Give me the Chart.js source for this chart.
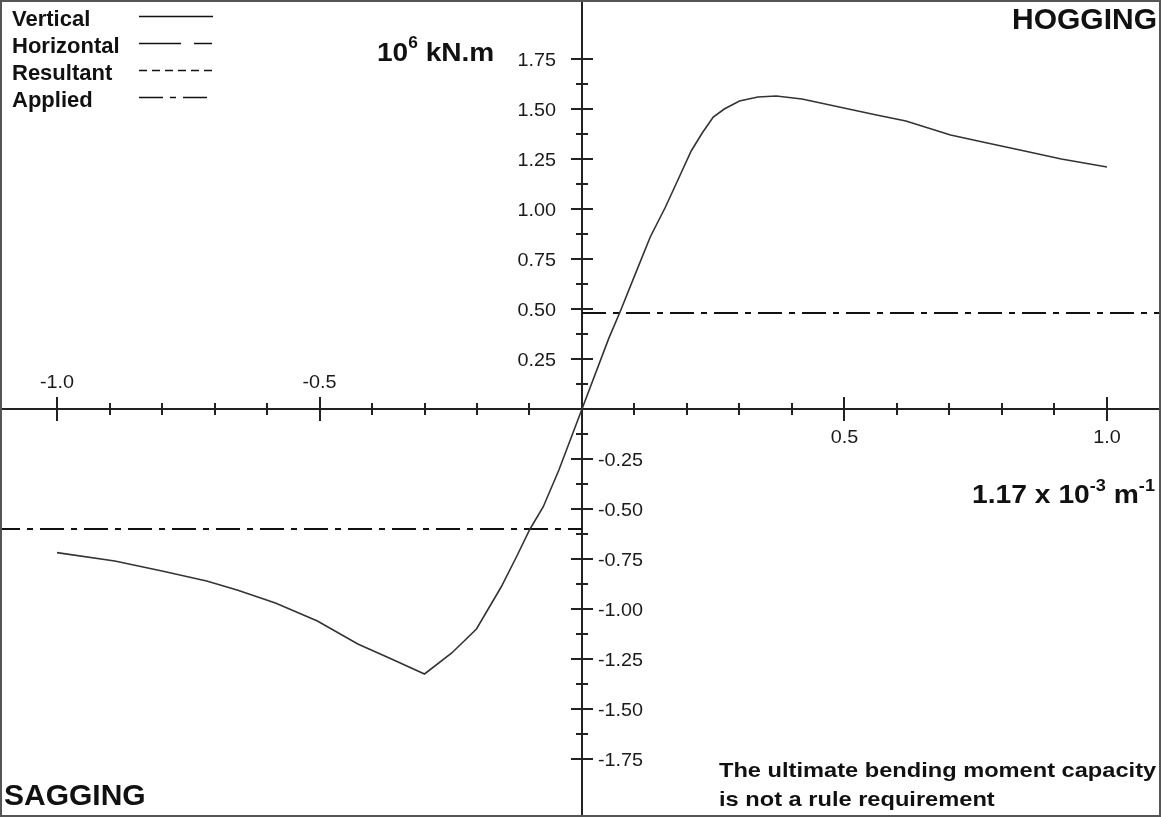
<!DOCTYPE html>
<html>
<head>
<meta charset="utf-8">
<title>Ultimate bending moment vs curvature</title>
<script src="https://cdn.jsdelivr.net/npm/chart.js@4.4.1/dist/chart.umd.min.js"></script>
<style>
  html, body { margin: 0; padding: 0; background: #fff; }
  #wrap { width: 1161px; height: 817px; }
</style>
</head>
<body>
<div id="wrap"><canvas id="momentChart" width="1161" height="817"></canvas></div>
<script>
// ✅ Curvature (1.17 x 10^-3 m^-1) vs moment (10^6 kN.m), vertical bending
const verticalCurvature = [-1.00, -0.89, -0.80, -0.715, -0.657, -0.584, -0.504, -0.427, -0.365, -0.30,
    -0.248, -0.201, -0.154, -0.125, -0.099, -0.074, -0.044, 0,
    0.051, 0.074, 0.102, 0.130, 0.159, 0.187, 0.208, 0.229, 0.250, 0.271, 0.300, 0.335, 0.370,
    0.419, 0.490, 0.561, 0.617, 0.702, 0.772, 0.843, 0.913, 1.00];
const verticalMoment = [-0.718, -0.76, -0.81, -0.86, -0.905, -0.97, -1.06, -1.175, -1.247, -1.325,
    -1.22, -1.10, -0.89, -0.74, -0.60, -0.49, -0.305, 0,
    0.353, 0.495, 0.678, 0.86, 1.01, 1.17, 1.29, 1.38, 1.46, 1.50, 1.54, 1.56, 1.565,
    1.55, 1.51, 1.47, 1.44, 1.37, 1.33, 1.29, 1.25, 1.21];

// no points for these two in the picture
const horizontalCurvature = [];
const horizontalMoment = [];
const resultantCurvature = [];
const resultantMoment = [];

// applied moments (hogging / sagging)
const appliedHogCurvature = [0, 1.2];
const appliedHogMoment = [0.48, 0.48];
const appliedSagCurvature = [-1.2, 0];
const appliedSagMoment = [-0.60, -0.60];

// axis ranges and ticks
const xRange = [-1.1086, 1.1029];
const yRange = [-2.04, 2.045];
const xMajorTicks = [-1.0, -0.5, 0.5, 1.0];
const xMajorLabels = ['-1.0', '-0.5', '0.5', '1.0'];
const xMinorTicks = [-0.9, -0.8, -0.7, -0.6, -0.4, -0.3, -0.2, -0.1, 0.1, 0.2, 0.3, 0.4, 0.6, 0.7, 0.8, 0.9];
const yMajorTicks = [1.75, 1.50, 1.25, 1.00, 0.75, 0.50, 0.25, -0.25, -0.50, -0.75, -1.00, -1.25, -1.50, -1.75];
const yMajorLabels = ['1.75', '1.50', '1.25', '1.00', '0.75', '0.50', '0.25', '-0.25', '-0.50', '-0.75', '-1.00', '-1.25', '-1.50', '-1.75'];
const yMinorTicks = [1.625, 1.375, 1.125, 0.875, 0.625, 0.375, 0.125, -0.125, -0.375, -0.625, -0.875, -1.125, -1.375, -1.625];

const legendLabels = ['Vertical', 'Horizontal', 'Resultant', 'Applied'];

const FONT = '"Liberation Sans", Arial, Helvetica, sans-serif';
const INK = '#111';

function toPoints(xs, ys) {
    return xs.map((x, i) => ({ x: x, y: ys[i] }));
}

// draw text with an optional horizontal stretch
function drawText(ctx, str, x, y, font, align, stretch, color) {
    ctx.save();
    ctx.font = font;
    ctx.fillStyle = color || INK;
    ctx.textAlign = align || 'left';
    ctx.textBaseline = 'alphabetic';
    ctx.translate(x, y);
    ctx.scale(stretch || 1, 1);
    ctx.fillText(str, 0, 0);
    ctx.restore();
}

// draw a run of [text, font, rise] pieces left to right (stretched), returns end x
function drawRun(ctx, pieces, x, y, stretch) {
    const sx = stretch || 1;
    pieces.forEach(p => {
        ctx.save();
        ctx.font = p[1];
        ctx.fillStyle = INK;
        ctx.textAlign = 'left';
        ctx.textBaseline = 'alphabetic';
        ctx.translate(x, y - (p[2] || 0));
        ctx.scale(sx, 1);
        ctx.fillText(p[0], 0, 0);
        x += ctx.measureText(p[0]).width * sx;
        ctx.restore();
    });
    return x;
}

// ✅ Axes crossing at the origin, with ticks on both sides
const crossAxesPlugin = {
    id: 'crossAxes',
    beforeDatasetsDraw(chart) {
        const ctx = chart.ctx;
        const xs = chart.scales.x;
        const ys = chart.scales.y;
        const area = chart.chartArea;
        const x0 = Math.round(xs.getPixelForValue(0));
        const y0 = Math.round(ys.getPixelForValue(0));

        ctx.save();
        ctx.strokeStyle = '#222';
        ctx.lineWidth = 2;
        ctx.beginPath();
        ctx.moveTo(area.left, y0);
        ctx.lineTo(area.right, y0);
        ctx.moveTo(x0, area.top);
        ctx.lineTo(x0, area.bottom);

        xMajorTicks.forEach(v => {
            const px = Math.round(xs.getPixelForValue(v));
            ctx.moveTo(px, y0 - 12);
            ctx.lineTo(px, y0 + 12);
        });
        xMinorTicks.forEach(v => {
            const px = Math.round(xs.getPixelForValue(v));
            ctx.moveTo(px, y0 - 6);
            ctx.lineTo(px, y0 + 6);
        });
        yMajorTicks.forEach(v => {
            const py = Math.round(ys.getPixelForValue(v));
            ctx.moveTo(x0 - 11, py);
            ctx.lineTo(x0 + 11, py);
        });
        yMinorTicks.forEach(v => {
            const py = Math.round(ys.getPixelForValue(v));
            ctx.moveTo(x0 - 6, py);
            ctx.lineTo(x0 + 6, py);
        });
        ctx.stroke();
        ctx.restore();

        // tick labels sit on the side away from the curve
        const tickFont = '18px ' + FONT;
        xMajorTicks.forEach((v, i) => {
            const px = xs.getPixelForValue(v);
            const py = v < 0 ? y0 - 21 : y0 + 34;
            drawText(ctx, xMajorLabels[i], px, py, tickFont, 'center', 1.1, '#1a1a1a');
        });
        yMajorTicks.forEach((v, i) => {
            const py = ys.getPixelForValue(v) + 6.5;
            if (v > 0) {
                drawText(ctx, yMajorLabels[i], x0 - 26, py, tickFont, 'right', 1.1, '#1a1a1a');
            } else {
                drawText(ctx, yMajorLabels[i], x0 + 16, py, tickFont, 'left', 1.1, '#1a1a1a');
            }
        });
    },
    afterDatasetsDraw(chart) {
        const ctx = chart.ctx;
        const area = chart.chartArea;

        // frame
        ctx.save();
        ctx.strokeStyle = '#555';
        ctx.lineWidth = 2;
        ctx.strokeRect(area.left + 1, area.top + 1, area.right - area.left - 2, area.bottom - area.top - 2);
        ctx.restore();

        // legend: label column then line sample column
        const sets = chart.data.datasets;
        legendLabels.forEach((label, i) => {
            const ds = sets.find(d => d.label === label);
            const base = 26 + i * 27;
            drawText(ctx, label, 12, base, 'bold 22px ' + FONT, 'left', 1);
            ctx.save();
            ctx.strokeStyle = INK;
            ctx.lineWidth = 1.5;
            ctx.setLineDash(ds.borderDash || []);
            ctx.beginPath();
            ctx.moveTo(139, base - 9.5);
            ctx.lineTo(213, base - 9.5);
            ctx.stroke();
            ctx.restore();
        });

        // units
        const big = 'bold 26px ' + FONT;
        const sup = 'bold 16px ' + FONT;
        drawRun(ctx, [['10', big, 0], ['6', sup, 13], [' kN.m', big, 0]], 377, 61, 1.08);

        const mid = 'bold 25px ' + FONT;
        const sup2 = 'bold 16px ' + FONT;
        drawRun(ctx, [['1.17 x 10', mid, 0], ['-3', sup2, 12], [' m', mid, 0], ['-1', sup2, 12]], 972, 503, 1.13);

        // corner notes
        drawText(ctx, 'HOGGING', 1157, 29, 'bold 30px ' + FONT, 'right', 1);
        drawText(ctx, 'SAGGING', 4, 805, 'bold 30px ' + FONT, 'left', 1);
        drawText(ctx, 'The ultimate bending moment capacity', 719, 777, 'bold 21px ' + FONT, 'left', 1.125);
        drawText(ctx, 'is not a rule requirement', 719, 806, 'bold 21px ' + FONT, 'left', 1.125);
    }
};

function renderMomentChart() {
    let ctx = document.getElementById('momentChart').getContext('2d');

    window.momentChartInstance = new Chart(ctx, {
        type: 'line',
        data: {
            datasets: [
                {
                    label: 'Vertical',
                    data: toPoints(verticalCurvature, verticalMoment),
                    borderColor: '#333',
                    borderWidth: 1.6,
                    borderDash: []
                },
                {
                    label: 'Horizontal',
                    data: toPoints(horizontalCurvature, horizontalMoment),
                    borderColor: '#333',
                    borderWidth: 1.6,
                    borderDash: [42, 13, 18, 13]
                },
                {
                    label: 'Resultant',
                    data: toPoints(resultantCurvature, resultantMoment),
                    borderColor: '#333',
                    borderWidth: 1.6,
                    borderDash: [8, 5]
                },
                {
                    label: 'Applied',
                    data: toPoints(appliedHogCurvature, appliedHogMoment),
                    borderColor: INK,
                    borderWidth: 2,
                    borderDash: [24, 7, 6, 7]
                },
                {
                    label: 'Applied (sagging)',
                    data: toPoints(appliedSagCurvature, appliedSagMoment),
                    borderColor: INK,
                    borderWidth: 2,
                    borderDash: [24, 7, 6, 7]
                }
            ]
        },
        options: {
            responsive: false,
            animation: false,
            layout: { padding: 0 },
            elements: {
                point: { radius: 0, hoverRadius: 0 },
                line: { tension: 0, fill: false }
            },
            plugins: {
                legend: { display: false },
                tooltip: { enabled: false }
            },
            scales: {
                x: { type: 'linear', min: xRange[0], max: xRange[1], display: false },
                y: { type: 'linear', min: yRange[0], max: yRange[1], display: false }
            }
        },
        plugins: [crossAxesPlugin]
    });
}

renderMomentChart();
</script>
</body>
</html>
